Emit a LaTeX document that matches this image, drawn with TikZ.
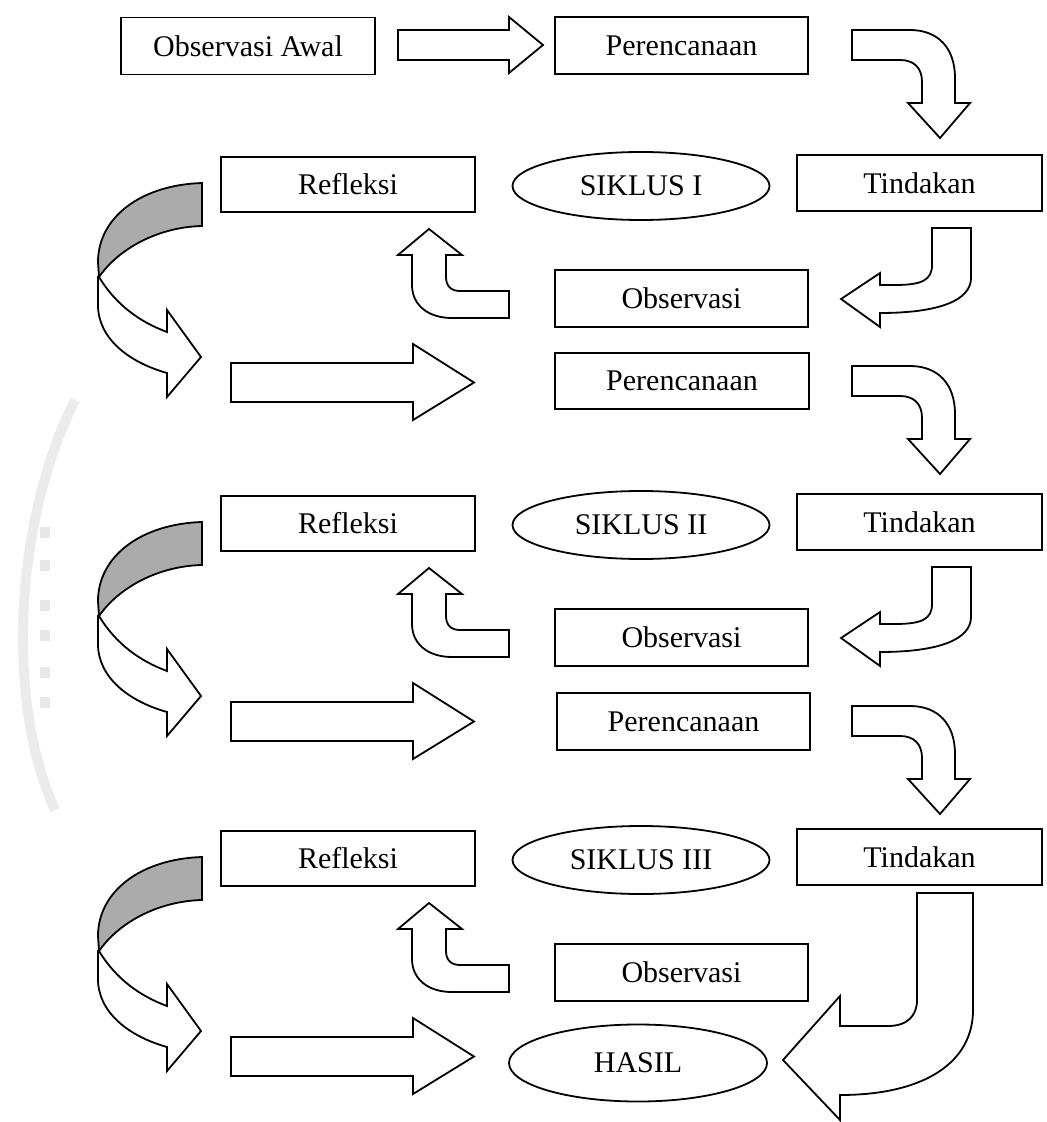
\documentclass[tikz,border=0pt]{standalone}
\usepackage{fontspec}
\setmainfont{Liberation Serif}
\usetikzlibrary{shapes.geometric}
\begin{document}
\begin{tikzpicture}[x=0.5pt,y=-0.5pt,
  txt/.style={font=\fontsize{15}{18}\selectfont},
  box/.style={txt,draw,line width=0.9pt,inner sep=0pt,minimum width=127pt,minimum height=28.5pt},
  oval/.style={txt,draw,ellipse,line width=0.9pt,inner sep=0pt,minimum width=128.5pt,minimum height=34pt},
  barrow/.style={draw,line width=0.9pt,fill=white,line join=miter},
  garrow/.style={draw,line width=0.9pt,fill=black!33},
  wmark/.style={draw=black!8,line width=5pt},
  wdash/.style={fill=black!9}]
\useasboundingbox (0,0) rectangle (1046,1122);
% faint watermark of the scan
\draw[wmark] (75,400) .. controls (15,520) and (5,700) .. (55,810);
\foreach \yy in {527,560,600,630,667,697}{\fill[wdash] (40,\yy) rectangle (50,\yy+11);}
% first row
\node[box] (obs0) at (248,46) {Observasi Awal};
\node[box,minimum width=126.5pt] (per1) at (681.5,45.5) {Perencanaan};
\draw[barrow] (398,30) -- (509,30) -- (509,17) -- (543,45) -- (509,73) -- (509,60) -- (398,60) -- cycle;
% the second and third planning boxes and the result
\node[box,minimum width=127pt,minimum height=28pt] (per2) at (682,381) {Perencanaan};
\node[box,minimum width=126.5pt] (per3) at (683.5,721.5) {Perencanaan};
\node[oval,minimum width=129pt,minimum height=38.5pt] (hasil) at (638,1063) {HASIL};
% bent arrows from planning down to action
\foreach \d in {0,336,676}{
  \begin{scope}[shift={(0,\d)}]
    \draw[barrow] (852,30) -- (910,30) .. controls (938,30) and (955,48) .. (955,78) -- (955,103)
      -- (970,103) -- (940,138) -- (908,103) -- (922,103) -- (922,82)
      .. controls (922,68) and (914,60) .. (900,60) -- (852,60) -- cycle;
  \end{scope}
}
% the three cycles
\foreach \c/\d/\r in {1/0/I,2/339/II,3/674/III}{
  \node[box,minimum height=27.5pt] (ref\c) at (348,{184.5+\d}) {Refleksi};
  \node[oval] (sik\c) at (641,{186+\d}) {SIKLUS \r};
  \node[box,minimum width=122.5pt,minimum height=28pt] (tin\c) at (919.5,{183+\d}) {Tindakan};
  \node[box,minimum width=126.5pt,minimum height=28.5pt] (obs\c) at (681.5,{298.5+\d}) {Observasi};
  \begin{scope}[shift={(0,\d)}]
    % up arrow from observation to reflection
    \draw[barrow] (429,229) -- (462,255) -- (446,255) -- (446,277)
      .. controls (446,286) and (451,291) .. (460,291) -- (509,291) -- (509,318) -- (452,318)
      .. controls (428,318) and (412,305) .. (412,285) -- (412,255) -- (398,255) -- cycle;
    % curved arrow with shaded back
    \draw[garrow] (202,183) .. controls (140,185) and (98,218) .. (98,262) -- (99,277)
      .. controls (120,247) and (160,227) .. (202,226) -- cycle;
    \draw[barrow] (99,277) .. controls (116,305) and (140,322) .. (167,332) -- (167,310)
      -- (201,357) -- (167,397) -- (167,373) .. controls (128,362) and (98,338) .. (98,305) -- (98,277) -- cycle;
    % straight arrow
    \draw[barrow] (231,363) -- (413,363) -- (413,344) -- (474,382.5) -- (413,420) -- (413,402) -- (231,402) -- cycle;
    \ifnum\c<3
      % bent arrow from action to observation
      \draw[barrow] (932,228) -- (971,228) -- (971,278) .. controls (971,300) and (940,313) .. (880,313)
        -- (880,327) -- (841,299) -- (880,273) -- (880,285) -- (895,285)
        .. controls (922,285) and (932,280) .. (932,265) -- cycle;
    \fi
  \end{scope}
}
% big bent arrow from the last action to the result
\draw[barrow] (917,893) -- (973,893) -- (973,1010) .. controls (973,1062) and (925,1095) .. (840,1095)
  -- (840,1120) -- (783,1060) -- (840,996) -- (840,1026) -- (888,1026)
  .. controls (907,1026) and (917,1016) .. (917,1000) -- cycle;
\end{tikzpicture}
\end{document}
